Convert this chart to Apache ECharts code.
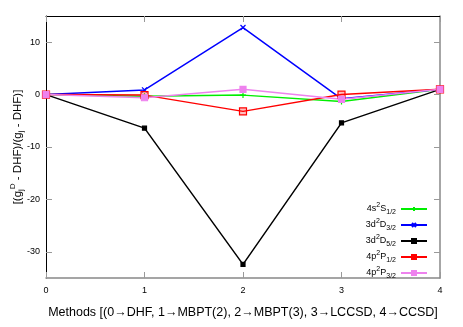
<!DOCTYPE html>
<html>
<head>
    <meta charset="utf-8">
    <title>methods</title>
    <script src="https://cdn.jsdelivr.net/npm/echarts@6/dist/echarts.min.js"></script>
    <style>
        html, body { margin: 0; padding: 0; background: #fff; }
    </style>
</head>
<body>
    <div id="chart" style="width: 463px;height:327px;"></div>
    <script type="text/javascript">
        // x positions: 0 DHF, 1 MBPT(2), 2 MBPT(3), 3 LCCSD, 4 CCSD
        var methods = [0, 1, 2, 3, 4];
        var s12 = [0, -0.3, -0.1, -1.3, 1.0];     // 4s 2S1/2
        var d32 = [0, 0.9, 12.8, -0.8, 1.0];      // 3d 2D3/2
        var d52 = [0, -6.4, -32.4, -5.4, 1.0];    // 3d 2D5/2
        var p12 = [0, -0.1, -3.2, 0.0, 1.0];      // 4p 2P1/2
        var p32 = [0, -0.6, 1.0, -0.9, 1.0];      // 4p 2P3/2
        var yTicks = [-30, -20, -10, 0, 10];
        var xTicks = [0, 1, 2, 3, 4];

        var names = ['4s2S1/2', '3d2D3/2', '3d2D5/2', '4p2P1/2', '4p2P3/2'];
        var labels = {
            '4s2S1/2': '4s{sup|2}S{sub|1/2}',
            '3d2D3/2': '3d{sup|2}D{sub|3/2}',
            '3d2D5/2': '3d{sup|2}D{sub|5/2}',
            '4p2P1/2': '4p{sup|2}P{sub|1/2}',
            '4p2P3/2': '4p{sup|2}P{sub|3/2}'
        };

        function pairs(arr) {
            return methods.map(function (m, i) { return [m, arr[i]]; });
        }

        var plus = 'path://M0,5L10,5M5,0L5,10';
        var cross = 'path://M0,0L10,10M10,0L0,10';

        function line(name, arr, color, symbol, size, fill) {
            return {
                name: name,
                type: 'line',
                data: pairs(arr),
                symbol: symbol,
                symbolSize: size,
                showAllSymbol: true,
                lineStyle: { color: color, width: 1.5 },
                itemStyle: { color: fill || color, borderColor: color, borderWidth: 1.2 },
                emphasis: { disabled: true },
                animation: false
            };
        }

        var myChart = echarts.init(document.getElementById('chart'));
        var richTxt = {
            sup: { fontSize: 7, padding: [0, 0, 7, 0], fontFamily: 'Liberation Sans' },
            sub: { fontSize: 7, padding: [6, 0, 0, 0], fontFamily: 'Liberation Sans' }
        };
        var option = {
            backgroundColor: '#fff',
            textStyle: { fontFamily: 'Liberation Sans', color: '#000' },
            grid: { left: 46, right: 23, top: 16, bottom: 49, outerBoundsMode: 'none', containLabel: false },
            legend: {
                data: names,
                orient: 'vertical',
                right: 30,
                top: 197,
                align: 'right',
                itemWidth: 26,
                itemHeight: 5,
                itemGap: 2.5,
                textStyle: { fontSize: 9, color: '#000', rich: richTxt },
                formatter: function (n) { return labels[n]; }
            },
            xAxis: [{
                type: 'value',
                min: 0, max: 4, interval: 1,
                name: 'Methods [(0\u2192DHF, 1\u2192MBPT(2), 2\u2192MBPT(3), 3\u2192LCCSD, 4\u2192CCSD]',
                nameLocation: 'middle',
                nameGap: 28,
                nameMoveOverlap: false,
                nameTextStyle: { fontSize: 12.5, color: '#000' },
                axisLine: { onZero: false, lineStyle: { color: '#888', width: 1.5 } },
                axisTick: { inside: true, length: 6, lineStyle: { color: '#999' }, customValues: xTicks },
                axisLabel: { fontSize: 9, color: '#000', margin: 8, customValues: xTicks },
                splitLine: { show: false }
            }, {
                type: 'value',
                position: 'top',
                min: 0, max: 4, interval: 1,
                axisLine: { show: true, onZero: false, lineStyle: { color: '#000', width: 1 } },
                axisTick: { inside: true, length: 6, lineStyle: { color: '#999' } },
                axisLabel: { show: false },
                splitLine: { show: false }
            }],
            yAxis: [{
                type: 'value',
                min: -35, max: 15,
                name: '[(g{sub|j}{sup|D} - DHF)/(g{sub|j} - DHF)]',
                nameLocation: 'middle',
                nameRotate: 90,
                nameGap: 20,
                nameMoveOverlap: false,
                nameTextStyle: { fontSize: 11.5, color: '#000', rich: {
                    sup: { fontSize: 8, padding: [0, 0, 9, 0] },
                    sub: { fontSize: 8, padding: [7, 0, 0, 0] }
                } },
                axisLine: { show: true, onZero: false, lineStyle: { color: '#000', width: 1 } },
                axisTick: { inside: true, length: 6, lineStyle: { color: '#999' }, customValues: yTicks },
                axisLabel: { fontSize: 9, color: '#000', margin: 6, customValues: yTicks },
                splitLine: { show: false }
            }, {
                type: 'value',
                position: 'right',
                min: -35, max: 15,
                axisLine: { show: true, onZero: false, lineStyle: { color: '#888', width: 1.5 } },
                axisTick: { inside: true, length: 6, lineStyle: { color: '#999' }, customValues: yTicks },
                axisLabel: { show: false },
                splitLine: { show: false }
            }],
            series: [
                line('4s2S1/2', s12, '#00ee00', plus, 6),
                line('3d2D3/2', d32, '#0000ff', cross, 5),
                line('3d2D5/2', d52, '#000000', 'rect', 4),
                line('4p2P1/2', p12, '#ff0000', 'rect', 7, 'rgba(255,0,0,0.25)'),
                line('4p2P3/2', p32, '#ee82ee', 'rect', 6)
            ]
        };
        myChart.setOption(option);
    </script>
</body>
</html>
